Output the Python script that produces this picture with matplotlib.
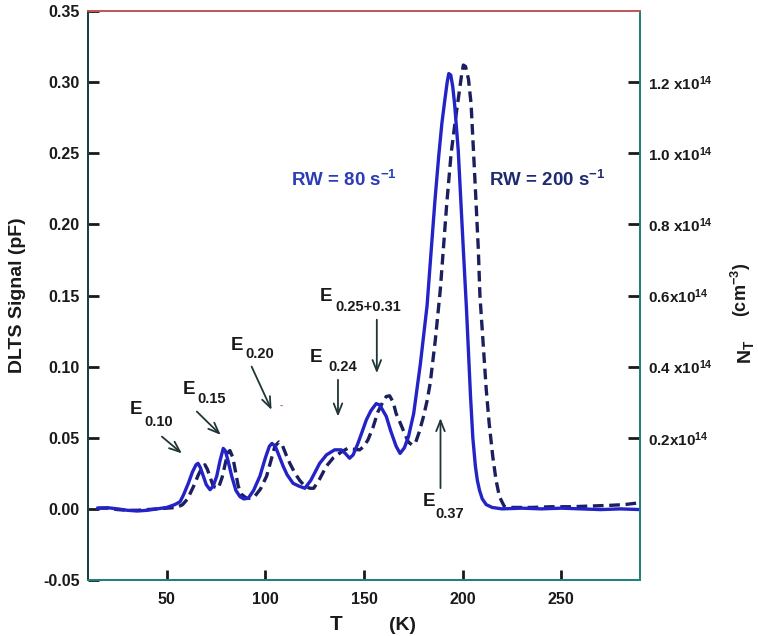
import matplotlib
matplotlib.use('Agg')
import matplotlib.pyplot as plt

plt.rcParams['font.family'] = ['Liberation Sans', 'DejaVu Sans']
plt.rcParams['font.weight'] = 'bold'
plt.rcParams['mathtext.fontset'] = 'custom'
plt.rcParams['mathtext.rm'] = 'Liberation Sans:bold'
plt.rcParams['mathtext.it'] = 'Liberation Sans:bold'
plt.rcParams['mathtext.bf'] = 'Liberation Sans:bold'
plt.rcParams['mathtext.default'] = 'rm'

# ---------------- data ----------------
T_80 = [15, 20, 25, 30, 35, 40, 45, 50, 54, 56.7, 58.5, 60.9, 63, 64.8, 65.8, 67, 68.5, 70,
        71.9, 73.5, 75.3, 77, 78.6, 79.6, 81, 82.9, 85, 87.1, 89, 91.3, 94, 97.2, 100, 102,
        103.3, 105, 107.3, 109, 111, 114, 117, 120, 123, 127.5, 131, 135.1, 138.5, 140.5,
        142.7, 144.5, 146.9, 149, 151.2, 153.5, 156.2, 158, 161.3, 163.5, 166.3, 168.3,
        170.5, 172.6, 175.2, 178.6, 182, 184.1, 186, 187.9, 189.5, 191, 192.2, 193, 194,
        195, 196, 197.8, 200.4, 202, 203, 204, 205.2, 206.5, 207.5, 208.6, 210, 212, 215,
        220, 230, 240, 250, 260, 270, 280, 290]
S_80 = [0.0005, 0.0008, 0.0, -0.001, -0.0015, -0.001, 0.0, 0.001, 0.003, 0.005, 0.010, 0.018,
        0.026, 0.031, 0.032, 0.029, 0.023, 0.017, 0.0135, 0.016, 0.023, 0.034, 0.0425, 0.041,
        0.034, 0.023, 0.013, 0.0086, 0.007, 0.0075, 0.013, 0.023, 0.036, 0.044, 0.046, 0.044,
        0.036, 0.030, 0.024, 0.018, 0.016, 0.0145, 0.020, 0.032, 0.038, 0.0415, 0.0415, 0.039,
        0.0356, 0.038, 0.046, 0.054, 0.0626, 0.069, 0.074, 0.073, 0.065, 0.055, 0.044, 0.039,
        0.043, 0.051, 0.067, 0.102, 0.143, 0.182, 0.217, 0.248, 0.271, 0.2875, 0.300, 0.306,
        0.305, 0.297, 0.284, 0.252, 0.182, 0.140, 0.110, 0.080, 0.050, 0.030, 0.020, 0.013,
        0.007, 0.003, 0.001, 0.0, 0.0005, 0.0, 0.0005, 0.0, -0.0005, 0.0, -0.0005]

T_200 = [15, 20, 25, 30, 35, 40, 45, 50, 55, 58, 60.5, 63.5, 66, 68.2, 69.3, 70.5, 72, 73.6,
         76.1, 78, 80, 81.2, 82, 83.5, 86.2, 88, 90.5, 92, 94.7, 97.5, 100.6, 103, 104.8,
         106.8, 108.5, 110.5, 112.4, 115, 117.4, 120, 122.5, 124.5, 127.5, 130.9, 134.5,
         138.5, 141.9, 144, 147.8, 150, 152, 154.5, 157, 159.5, 161.3, 163, 164.8, 166.3,
         168.5, 170.6, 172.5, 174.3, 176, 178, 180.2, 182, 183.6, 186.2, 188.7, 190, 192,
         194.2, 196.5, 198.4, 199.5, 200.4, 201.5, 203, 204.3, 205.3, 206.5, 208, 208.8,
         210.5, 212, 213.5, 215.3, 217, 218.7, 221.2, 225, 235, 245, 255, 265, 275, 282, 288]
S_200 = [0.0005, 0.0005, -0.0005, -0.001, -0.001, -0.0005, 0.0, 0.0005, 0.001, 0.003, 0.007,
         0.0157, 0.024, 0.030, 0.031, 0.028, 0.022, 0.0157, 0.0145, 0.022, 0.034, 0.040, 0.041,
         0.036, 0.016, 0.010, 0.0075, 0.0075, 0.009, 0.014, 0.023, 0.035, 0.044, 0.047, 0.045,
         0.038, 0.032, 0.025, 0.020, 0.016, 0.0145, 0.0145, 0.021, 0.030, 0.036, 0.040, 0.0427,
         0.042, 0.0415, 0.044, 0.0485, 0.057, 0.068, 0.075, 0.079, 0.0795, 0.075, 0.067, 0.060,
         0.053, 0.047, 0.045, 0.046, 0.054, 0.065, 0.076, 0.0885, 0.119, 0.154, 0.178, 0.215,
         0.250, 0.275, 0.294, 0.305, 0.312, 0.311, 0.302, 0.285, 0.258, 0.225, 0.182, 0.150,
         0.115, 0.084, 0.060, 0.037, 0.020, 0.0086, 0.0016, 0.001, 0.001, 0.0015, 0.0015,
         0.002, 0.0025, 0.003, 0.004]

x_ticks = [50, 100, 150, 200, 250]
y_ticks = [-0.05, 0.00, 0.05, 0.10, 0.15, 0.20, 0.25, 0.30, 0.35]
nt_ticks = [0.2, 0.4, 0.6, 0.8, 1.0, 1.2]
nt_labels = ["0.2x10$^{14}$", "0.4 x10$^{14}$", "0.6x10$^{14}$",
             "0.8 x10$^{14}$", "1.0 x10$^{14}$", "1.2 x10$^{14}$"]

# level labels: (main, subscript, text centre T, S, sub offset px, arrow start, arrow end)
levels = [
    ("E", "0.10", 34.5, 0.0696, (7.3, -11.7), (47.5, 0.0508), (57.6, 0.039)),
    ("E", "0.15", 61.2, 0.0837, (7.9, -9.0), (65.2, 0.0684), (77.3, 0.052)),
    ("E", "0.20", 85.4, 0.1146, (8.3, -8.3), (93.0, 0.100), (103.1, 0.0696)),
    ("E", "0.24", 125.9, 0.1066, (11.6, -9.4), (136.8, 0.0907), (136.8, 0.0649)),
    ("E", "0.25+0.31", 130.7, 0.1491, (8.8, -10.0), (156.5, 0.133), (156.5, 0.0954)),
    ("E", "0.37", 182.8, 0.0051, (5.8, -12.3), (188.8, 0.0146), (188.8, 0.0638)),
]

# ---------------- figure ----------------
W, H = 758, 636
fig = plt.figure(figsize=(W / 100, H / 100), dpi=100)
ax = fig.add_axes([88 / W, 1 - 580 / H, (640 - 88) / W, (580 - 11) / H])

ax.plot(T_80, S_80, color='#2323c8', lw=2.4, solid_joinstyle='round', zorder=3)
ax.plot(T_200, S_200, color='#1b1f5e', lw=2.4, dashes=(3.2, 1.7), zorder=2)

ax.set_xlim(10, 290)
ax.set_ylim(-0.05, 0.35)
ax.set_xticks(x_ticks)
ax.set_xticklabels([str(v) for v in x_ticks])
ax.set_yticks(y_ticks)
ax.set_yticklabels(["%.2f" % v for v in y_ticks])
ax.tick_params(axis='y', direction='in', length=8, width=2, color='#1a1a1a',
               labelsize=11.5, pad=6, labelcolor='#1a1a1a')
ax.tick_params(axis='x', direction='in', length=7, width=2, color='#1a1a1a',
               labelsize=11.5, pad=9, labelcolor='#1a1a1a')

ax2 = ax.twinx()
ax2.set_ylim(-0.2, 1.4)
ax2.set_yticks(nt_ticks)
ax2.set_yticklabels(nt_labels)
ax2.tick_params(axis='y', direction='in', length=9, width=2, color='#1a1a1a',
                labelsize=11, pad=6, labelcolor='#1a1a1a')

for a in (ax, ax2):
    a.spines['left'].set_color('#17403e')
    a.spines['bottom'].set_color('#1f8080')
    a.spines['right'].set_color('#1f8080')
    a.spines['top'].set_color('#c05858')
    for s in a.spines.values():
        s.set_linewidth(1.3)

# level annotations
for main, sub, tc, sc, (dx, dy), a0, a1 in levels:
    ax.text(tc, sc, main, ha='center', va='center', fontsize=13.5, color='#1a1a1a', zorder=5)
    ax.annotate(sub, xy=(tc, sc), xytext=(dx * 0.72 + 0.5, dy * 0.72), textcoords='offset points',
                ha='left', va='center', fontsize=10.5, color='#1a1a1a', zorder=5)
    ax.annotate('', xy=a1, xytext=a0,
                arrowprops=dict(arrowstyle='->,head_length=0.55,head_width=0.22',
                                color='#203535', lw=1.3, mutation_scale=14,
                                shrinkA=0, shrinkB=0), zorder=4)

# small red mark near E0.20
ax.text(107.8, 0.0724, '-', color='#d06060', fontsize=7, ha='center', va='center')

ax.text(113.2, 0.2313, "RW = 80 s$^{-1}$", color='#2a3cb8', fontsize=13.5,
        ha='left', va='center')
ax.text(213.5, 0.2313, "RW = 200 s$^{-1}$", color='#1e2a72', fontsize=13.5,
        ha='left', va='center')

# axis labels
fig.text(18 / W, 1 - 295 / H, "DLTS Signal (pF)", rotation=90, ha='center', va='center',
         fontsize=14, color='#1a1a1a')
fig.text(336 / W, 1 - 624 / H, "T", ha='center', va='center', fontsize=15, color='#1a1a1a')
fig.text(402 / W, 1 - 626 / H, "(K)", ha='center', va='center', fontsize=14, color='#1a1a1a')
fig.text(746 / W, 1 - 352 / H, "N$_{T}$", rotation=90, ha='center', va='center',
         fontsize=14, color='#1a1a1a')
fig.text(741 / W, 1 - 290 / H, "(cm$^{-3}$)", rotation=90, ha='center', va='center',
         fontsize=13, color='#1a1a1a')

fig.savefig('out.png', dpi=100)
